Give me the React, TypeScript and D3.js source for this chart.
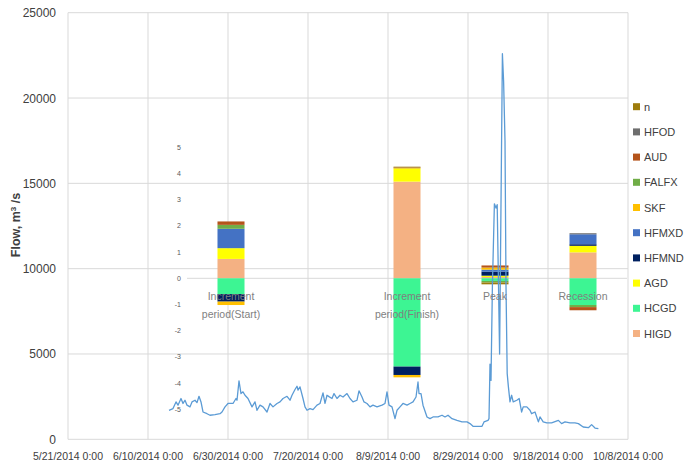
import React from "react";
import * as d3 from "d3";

// ---------- data ----------
const startDate = "2014-05-21";
const xTickLabels = ["5/21/2014 0:00", "6/10/2014 0:00", "6/30/2014 0:00", "7/20/2014 0:00", "8/9/2014 0:00", "8/29/2014 0:00", "9/18/2014 0:00", "10/8/2014 0:00"];
const xTickDates = ["2014-05-21", "2014-06-10", "2014-06-30", "2014-07-20", "2014-08-09", "2014-08-29", "2014-09-18", "2014-10-08"];
const yTicks = [0, 5000, 10000, 15000, 20000, 25000];

// flow series: day offset from startDate, flow (m3/s)
const flowDays = [25.25, 26.25, 27, 27.5, 28.25, 28.75, 29.25, 29.75, 30.5, 31, 31.75, 32.25, 32.75, 33.25, 33.75, 34.75, 35.5, 36.75, 38, 38.5, 39.25, 40, 41.25, 42, 42.25, 42.75, 43.25, 43.75, 44.25, 45, 46, 46.75, 47.25, 48, 48.75, 49.75, 50.5, 51.25, 52.25, 53, 53.75, 54.75, 55.5, 56, 56.75, 57.25, 57.5, 58, 58.75, 59.25, 59.75, 60.5, 61.25, 62.25, 63, 63.75, 64.25, 64.75, 65.25, 66, 66.5, 67.25, 68, 68.75, 69.75, 70.5, 71.25, 72.25, 72.75, 73.5, 74, 74.75, 75.5, 76.25, 77.25, 78.5, 79.25, 79.75, 80.25, 81, 81.75, 82.25, 83, 83.75, 84.75, 85.5, 86.25, 87, 87.5, 87.75, 88.25, 88.75, 89.75, 90.5, 91.25, 92.5, 93.5, 94.25, 95, 96, 97.25, 98.5, 99.75, 100.5, 101.25, 103.5, 104, 105, 105.25, 105.5, 105.75, 106.1, 106.6, 107, 107.3, 107.9, 108.6, 108.9, 109.25, 109.5, 109.8, 110.1, 110.5, 110.9, 111.3, 112.2, 112.8, 113.4, 113.8, 114.7, 115.5, 115.9, 116.75, 117.6, 118, 118.8, 119.7, 120.9, 122.6, 123.4, 124.25, 125.5, 126.75, 127.6, 128.8, 130.1, 130.9, 131.75, 132.6];
const flowValues = [1700, 1800, 2190, 2000, 2390, 2100, 2290, 2000, 1900, 2190, 2290, 2150, 2520, 2190, 1600, 1500, 1410, 1450, 1500, 1600, 1900, 2100, 2100, 2390, 2290, 3420, 2680, 2780, 2580, 2390, 1900, 2190, 1700, 2000, 1900, 1600, 2100, 1900, 2100, 2190, 2390, 2520, 2290, 2580, 2920, 3110, 2880, 3070, 2390, 1900, 1700, 1800, 1740, 2000, 2100, 2720, 2100, 2580, 2500, 2390, 2680, 2390, 2580, 2480, 2680, 2390, 2190, 2290, 2840, 2480, 2190, 2100, 1900, 2000, 1900, 2000, 2100, 2780, 2000, 1900, 1210, 1700, 1900, 2100, 2000, 2100, 2190, 2480, 3360, 2680, 2680, 2000, 1310, 1210, 1310, 1310, 1410, 1310, 1410, 1210, 1110, 1020, 1020, 920, 760, 760, 1020, 1110, 1210, 4400, 3450, 9000, 13800, 13550, 13750, 5000, 22600, 21000, 17500, 9000, 3850, 3070, 2190, 2580, 2190, 2290, 2390, 1600, 1900, 1900, 1700, 1500, 1600, 1020, 1310, 1020, 960, 960, 1110, 920, 1020, 960, 960, 920, 720, 680, 860, 660, 620];

// inset stacked bars
const categories = ["Increment period(Start)", "", "Increment period(Finish)", "Peak", "Recession"];
const seriesNames = ["HIGD", "HCGD", "AGD", "HFMND", "HFMXD", "SKF", "FALFX", "AUD", "HFOD", "n"];
const seriesColors = ["#F4B183", "#3DF593", "#FFFF00", "#002060", "#4472C4", "#FFC000", "#70AD47", "#B5541B", "#6E6E6E", "#9E7C0C"];
const HIGD = [0.74, 0, 3.69, 0.05, 0.99];
const HCGD = [-0.6, 0, -3.37, -0.1, -1.02];
const AGD = [0.41, 0, 0.51, 0.05, 0.25];
const HFMND = [-0.29, 0, -0.32, 0.15, 0.06];
const HFMXD = [0.74, 0, 0, 0.08, 0.38];
const SKF = [-0.13, 0, -0.09, 0.08, 0];
const FALFX = [0.15, 0, 0, -0.06, -0.08];
const AUD = [0.13, 0, 0.03, 0.08, -0.12];
const HFOD = [0, 0, 0, 0, 0.04];
const n = [0, 0, 0.03, -0.07, 0];
const insetTicks = [-5, -4, -3, -2, -1, 0, 1, 2, 3, 4, 5];

const W = 684, H = 468;
const FONT = "'Liberation Sans', Arial, sans-serif";

export default function App() {
  const parse = d3.timeParse("%Y-%m-%d");
  const t0 = parse(startDate)!.getTime();
  const x = d3.scaleTime().domain([parse(xTickDates[0])!, parse(xTickDates[xTickDates.length - 1])!]).range([68, 628]);
  const y = d3.scaleLinear().domain([0, 25000]).range([439.3, 12.7]);

  const pts = flowDays.map((d, i) => ({ date: new Date(t0 + d * 86400000), v: flowValues[i] }));
  const line = d3.line<{ date: Date; v: number }>().x((p) => x(p.date)).y((p) => y(p.v));

  const xi = d3.scaleBand().domain(categories.map((c, i) => String(i))).range([187, 627]).paddingInner(0.693).paddingOuter(0.3465);
  const yi = d3.scaleLinear().domain([-5, 5]).range([409.3, 147.3]);

  const seriesData = [HIGD, HCGD, AGD, HFMND, HFMXD, SKF, FALFX, AUD, HFOD, n];
  const rows = categories.map((c, i) => {
    const r: Record<string, number> = { idx: i };
    seriesNames.forEach((s, k) => (r[s] = seriesData[k][i]));
    return r;
  });
  const stacked = d3.stack<Record<string, number>>().keys(seriesNames).offset(d3.stackOffsetDiverging)(rows);

  const legendNames = [...seriesNames].reverse();
  const legendColors = [...seriesColors].reverse();

  return (
    <svg width={W} height={H} style={{ position: "absolute", left: 0, top: 0, background: "#fff" }} fontFamily={FONT}>
      <rect x={0} y={0} width={W} height={H} fill="#fff" />
      {/* main gridlines */}
      {yTicks.filter((t) => t > 0).map((t) => (
        <line key={"gy" + t} x1={68} x2={628} y1={y(t)} y2={y(t)} stroke="#D9D9D9" strokeWidth={1} />
      ))}
      {xTickDates.slice(1).map((d) => (
        <line key={"gx" + d} x1={x(parse(d)!)} x2={x(parse(d)!)} y1={y(25000)} y2={y(0)} stroke="#D9D9D9" strokeWidth={1} />
      ))}
      <line x1={68} x2={68} y1={y(25000)} y2={y(0)} stroke="#D9D9D9" />
      <line x1={68} x2={628} y1={y(0)} y2={y(0)} stroke="#D9D9D9" />
      {/* main y labels */}
      {yTicks.map((t) => (
        <text key={"yl" + t} x={56} y={y(t) + 4.5} textAnchor="end" fontSize={12} fill="#404040">{t}</text>
      ))}
      {/* x labels */}
      {xTickDates.map((d, i) => (
        <text key={"xl" + d} x={x(parse(d)!)} y={460} textAnchor="middle" fontSize={10.5} fill="#404040">{xTickLabels[i]}</text>
      ))}
      {/* y title */}
      <text transform={`translate(20,225) rotate(-90)`} textAnchor="middle" fontSize={12.5} fontWeight="bold" fill="#404040">
        Flow, m<tspan fontSize={8} dy={-4}>3</tspan><tspan dy={4}> /s</tspan>
      </text>

      {/* inset axis */}
      <line x1={187} x2={627} y1={yi(0)} y2={yi(0)} stroke="#D9D9D9" />
      {insetTicks.map((t) => (
        <text key={"it" + t} x={181} y={yi(t) + 2.5} textAnchor="end" fontSize={7} fill="#595959">{t}</text>
      ))}
      {/* bars */}
      {stacked.map((s, k) => (
        <g key={s.key} fill={seriesColors[k]}>
          {s.map((seg, i) => {
            const y0 = yi(seg[0]), y1 = yi(seg[1]);
            const h = Math.abs(y0 - y1);
            if (h < 0.01) return null;
            return <rect key={i} x={xi(String(i))!} width={xi.bandwidth()} y={Math.min(y0, y1)} height={h} />;
          })}
        </g>
      ))}
      {/* flow line */}
      <path d={line(pts)!} fill="none" stroke="#5B9BD5" strokeWidth={1.3} strokeLinejoin="round" />
      {/* category labels */}
      {categories.map((c, i) => {
        const parts = c.split(" ");
        const cx = xi(String(i))! + xi.bandwidth() / 2;
        return (
          <text key={"cl" + i} x={cx} y={300} textAnchor="middle" fontSize={10.5} fill="#7F7F7F">
            {parts.map((p, j) => (
              <tspan key={j} x={cx} dy={j === 0 ? 0 : 17.5}>{p}</tspan>
            ))}
          </text>
        );
      })}
      {/* legend */}
      {legendNames.map((name, i) => {
        const cy = 106.7 + i * 25.2;
        return (
          <g key={"lg" + name}>
            <rect x={633} y={cy - 3.5} width={7} height={7} fill={legendColors[i]} />
            <text x={644} y={cy + 4} fontSize={11} fill="#404040">{name}</text>
          </g>
        );
      })}
    </svg>
  );
}
